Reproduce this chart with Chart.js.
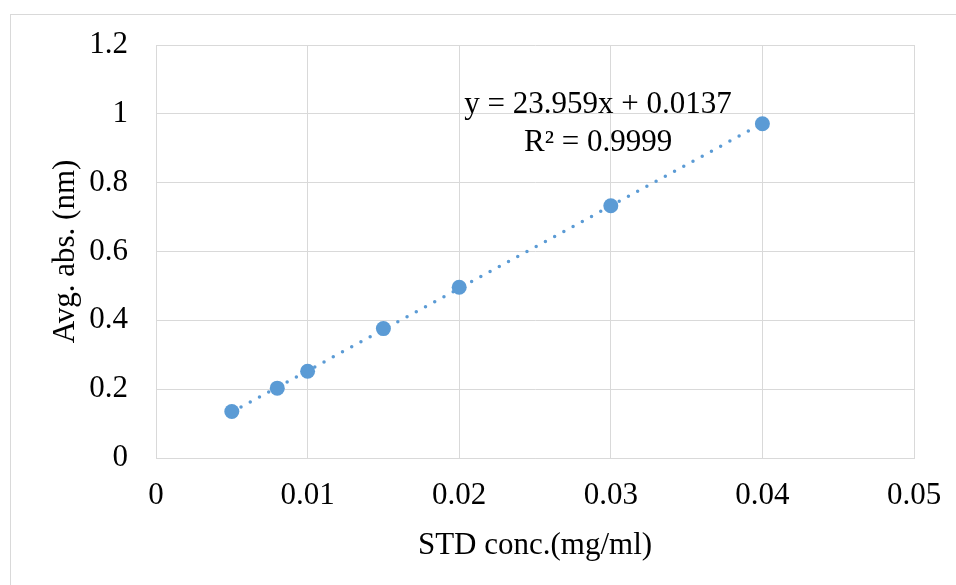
<!DOCTYPE html>
<html>
<head>
<meta charset="utf-8">
<script src="https://cdn.jsdelivr.net/npm/chart.js@4/dist/chart.umd.min.js"></script>
<style>
  html, body { margin: 0; padding: 0; background: #fff; overflow: hidden; }
  #wrap { position: relative; width: 956px; height: 585px; }
</style>
</head>
<body>
<div id="wrap"><canvas id="c" width="956" height="585"></canvas></div>
<script>
// ---- data ----
const concentrations = [0.005, 0.008, 0.01, 0.015, 0.02, 0.03, 0.04];
const absorbances    = [0.135, 0.203, 0.252, 0.376, 0.496, 0.733, 0.971];
const trendX = [0.005, 0.04];
const trendY = [0.1335, 0.9721];
const xTickLabels = ['0', '0.01', '0.02', '0.03', '0.04', '0.05'];
const yTickLabels = ['0', '0.2', '0.4', '0.6', '0.8', '1', '1.2'];
const equationLines = ['y = 23.959x + 0.0137', 'R\u00B2 = 0.9999'];
const xTitle = 'STD conc.(mg/ml)';
const yTitle = 'Avg. abs. (nm)';

const FONT = "'Liberation Serif', 'Times New Roman', serif";
const BLUE = '#5b9bd5';
const GRID = '#d9d9d9';

const frame = {
  id: 'frame',
  beforeDraw(chart) {
    const ctx = chart.ctx;
    ctx.save();
    ctx.fillStyle = '#fff';
    ctx.fillRect(0, 0, chart.width, chart.height);
    ctx.strokeStyle = GRID;
    ctx.lineWidth = 1;
    ctx.strokeRect(10.5, 14.5, 1000, 1000);
    ctx.restore();
  }
};

const equation = {
  id: 'equation',
  afterDatasetsDraw(chart) {
    const ctx = chart.ctx;
    const xs = chart.scales.x, ys = chart.scales.y;
    const cx = xs.getPixelForValue(0.02916);
    const cy = ys.getPixelForValue(1.026);
    ctx.save();
    ctx.font = '31px ' + FONT;
    ctx.fillStyle = '#000';
    ctx.textAlign = 'center';
    ctx.textBaseline = 'middle';
    equationLines.forEach((t, i) => ctx.fillText(t, cx, cy + i * 38));
    ctx.restore();
  }
};

new Chart(document.getElementById('c'), {
  type: 'scatter',
  data: {
    datasets: [
      {
        label: 'Avg. abs.',
        data: concentrations.map((x, i) => ({ x, y: absorbances[i] })),
        backgroundColor: BLUE,
        borderColor: BLUE,
        pointRadius: 7.5,
        pointBorderWidth: 0,
        showLine: false,
        order: 1
      },
      {
        label: 'Linear trend',
        data: trendX.map((x, i) => ({ x, y: trendY[i] })),
        borderColor: BLUE,
        borderWidth: 3.5,
        borderDash: [0, 10.5],
        borderCapStyle: 'round',
        pointRadius: 0,
        showLine: true,
        fill: false,
        order: 2
      }
    ]
  },
  options: {
    responsive: false,
    animation: false,
    events: [],
    layout: { padding: { top: 45, right: 42, left: 0, bottom: 0 } },
    plugins: { legend: { display: false }, tooltip: { enabled: false } },
    scales: {
      x: {
        type: 'linear',
        min: 0, max: 0.05,
        afterFit(s) { s.height = 127; s.paddingLeft = 0; s.paddingRight = 0; },
        ticks: {
          stepSize: 0.01,
          padding: 19,
          color: '#000',
          font: { family: FONT, size: 31 },
          maxRotation: 0,
          callback: (v, i) => xTickLabels[i]
        },
        grid: { color: GRID, lineWidth: 1, drawTicks: false },
        border: { color: GRID },
        title: {
          display: true,
          text: xTitle,
          color: '#000',
          font: { family: FONT, size: 31 },
          padding: { top: 0, bottom: 21 }
        }
      },
      y: {
        type: 'linear',
        min: 0, max: 1.2,
        afterFit(s) { s.width = 156; s.paddingTop = 0; s.paddingBottom = 0; },
        ticks: {
          stepSize: 0.2,
          padding: 28,
          color: '#000',
          font: { family: FONT, size: 31 },
          callback: (v, i) => yTickLabels[i]
        },
        grid: { color: GRID, lineWidth: 1, drawTicks: false },
        border: { color: GRID },
        title: {
          display: true,
          text: yTitle,
          color: '#000',
          font: { family: FONT, size: 31 },
          padding: { top: 47, bottom: 0 }
        }
      }
    }
  },
  plugins: [frame, equation]
});
</script>
</body>
</html>
